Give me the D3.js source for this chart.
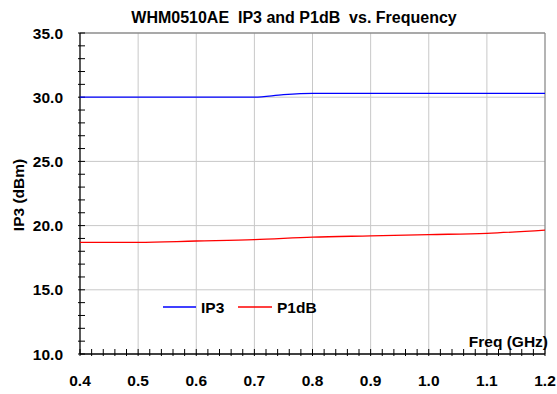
<!DOCTYPE html>
<html><head><meta charset="utf-8">
<script src="https://cdn.jsdelivr.net/npm/d3@7/dist/d3.min.js"></script>
<style>body{margin:0;background:#fff;}svg{display:block;font-family:Arial,"Liberation Sans",sans-serif;}</style>
</head><body>
<script>
const freq = [0.4, 0.5, 0.6, 0.7, 0.75, 0.8, 0.9, 1.0, 1.1, 1.2];
const ip3 = [30.0, 30.0, 30.0, 30.0, 30.2, 30.3, 30.3, 30.3, 30.3, 30.3];
const p1freq = [0.4, 0.5, 0.6, 0.7, 0.8, 0.9, 1.0, 1.1, 1.2];
const p1db = [18.7, 18.7, 18.8, 18.9, 19.1, 19.2, 19.3, 19.4, 19.65];
const xTicks = [0.4, 0.5, 0.6, 0.7, 0.8, 0.9, 1.0, 1.1, 1.2];
const yTicks = [10, 15, 20, 25, 30, 35];

const W = 557, H = 394;
const L = 80, R = 545, T = 33, B = 354;
const FS = 15.5;
const svg = d3.select("body").append("svg").attr("width", W).attr("height", H);
const x = d3.scaleLinear().domain([0.4, 1.2]).range([L, R]);
const y = d3.scaleLinear().domain([10, 35]).range([B, T]);

// gridlines
svg.append("g").selectAll("line").data(xTicks.slice(1, -1)).join("line")
  .attr("x1", d => x(d)).attr("x2", d => x(d)).attr("y1", T).attr("y2", B)
  .attr("stroke", "#c8c8c8").attr("stroke-width", 1);
svg.append("g").selectAll("line").data(yTicks.slice(1, -1)).join("line")
  .attr("x1", L).attr("x2", R).attr("y1", d => y(d)).attr("y2", d => y(d))
  .attr("stroke", "#c8c8c8").attr("stroke-width", 1);
// top/right frame
svg.append("line").attr("x1", L).attr("x2", R).attr("y1", T).attr("y2", T).attr("stroke", "#8c8c8c").attr("stroke-width", 1.3);
svg.append("line").attr("x1", R).attr("x2", R).attr("y1", T).attr("y2", B).attr("stroke", "#8c8c8c").attr("stroke-width", 1.3);

// minor ticks
const yMinor = d3.range(10, 35.01, 1);
svg.append("g").selectAll("line").data(yMinor).join("line")
  .attr("x1", L - 2).attr("x2", L + 5).attr("y1", d => y(d)).attr("y2", d => y(d))
  .attr("stroke", "#000").attr("stroke-width", 1);
const xMinor = d3.range(0, 41).map(i => 0.4 + i * 0.02);
svg.append("g").selectAll("line").data(xMinor).join("line")
  .attr("x1", d => x(d)).attr("x2", d => x(d)).attr("y1", B + 2).attr("y2", B - 5)
  .attr("stroke", "#000").attr("stroke-width", 1);

// axes lines
svg.append("line").attr("x1", L).attr("x2", L).attr("y1", T).attr("y2", B).attr("stroke", "#000").attr("stroke-width", 1.3);
svg.append("line").attr("x1", L).attr("x2", R).attr("y1", B).attr("y2", B).attr("stroke", "#000").attr("stroke-width", 1.3);

// tick labels
svg.append("g").selectAll("text").data(yTicks).join("text")
  .attr("x", 63).attr("y", d => y(d) + 5.5).attr("text-anchor", "end")
  .attr("font-size", FS).attr("font-weight", "bold").text(d => d.toFixed(1));
svg.append("g").selectAll("text").data(xTicks).join("text")
  .attr("x", d => x(d)).attr("y", 386).attr("text-anchor", "middle")
  .attr("font-size", FS).attr("font-weight", "bold").text(d => d.toFixed(1));

// titles
svg.append("text").attr("x", 294).attr("y", 23).attr("text-anchor", "middle")
  .attr("font-size", 16).attr("font-weight", "bold").attr("xml:space", "preserve")
  .text("WHM0510AE  IP3 and P1dB  vs. Frequency");
svg.append("text").attr("transform", "translate(24,195) rotate(-90)").attr("text-anchor", "middle")
  .attr("font-size", FS).attr("font-weight", "bold").text("IP3 (dBm)");
svg.append("text").attr("x", 548).attr("y", 347).attr("text-anchor", "end")
  .attr("font-size", FS).attr("font-weight", "bold").text("Freq (GHz)");

// lines
const line = d3.line().curve(d3.curveMonotoneX);
svg.append("path").attr("d", line(freq.map((f, i) => [x(f), y(ip3[i])])))
  .attr("fill", "none").attr("stroke", "#0000ff").attr("stroke-width", 1.3);
svg.append("path").attr("d", line(p1freq.map((f, i) => [x(f), y(p1db[i])])))
  .attr("fill", "none").attr("stroke", "#ff0000").attr("stroke-width", 1.3);

// legend
const leg = svg.append("g");
leg.append("line").attr("x1", 163).attr("x2", 196).attr("y1", 307).attr("y2", 307).attr("stroke", "#0000ff").attr("stroke-width", 1.3);
leg.append("text").attr("x", 201).attr("y", 312.5).attr("font-size", FS).attr("font-weight", "bold").text("IP3");
leg.append("line").attr("x1", 238).attr("x2", 272).attr("y1", 307).attr("y2", 307).attr("stroke", "#ff0000").attr("stroke-width", 1.3);
leg.append("text").attr("x", 277).attr("y", 312.5).attr("font-size", FS).attr("font-weight", "bold").text("P1dB");
</script>
</body></html>
